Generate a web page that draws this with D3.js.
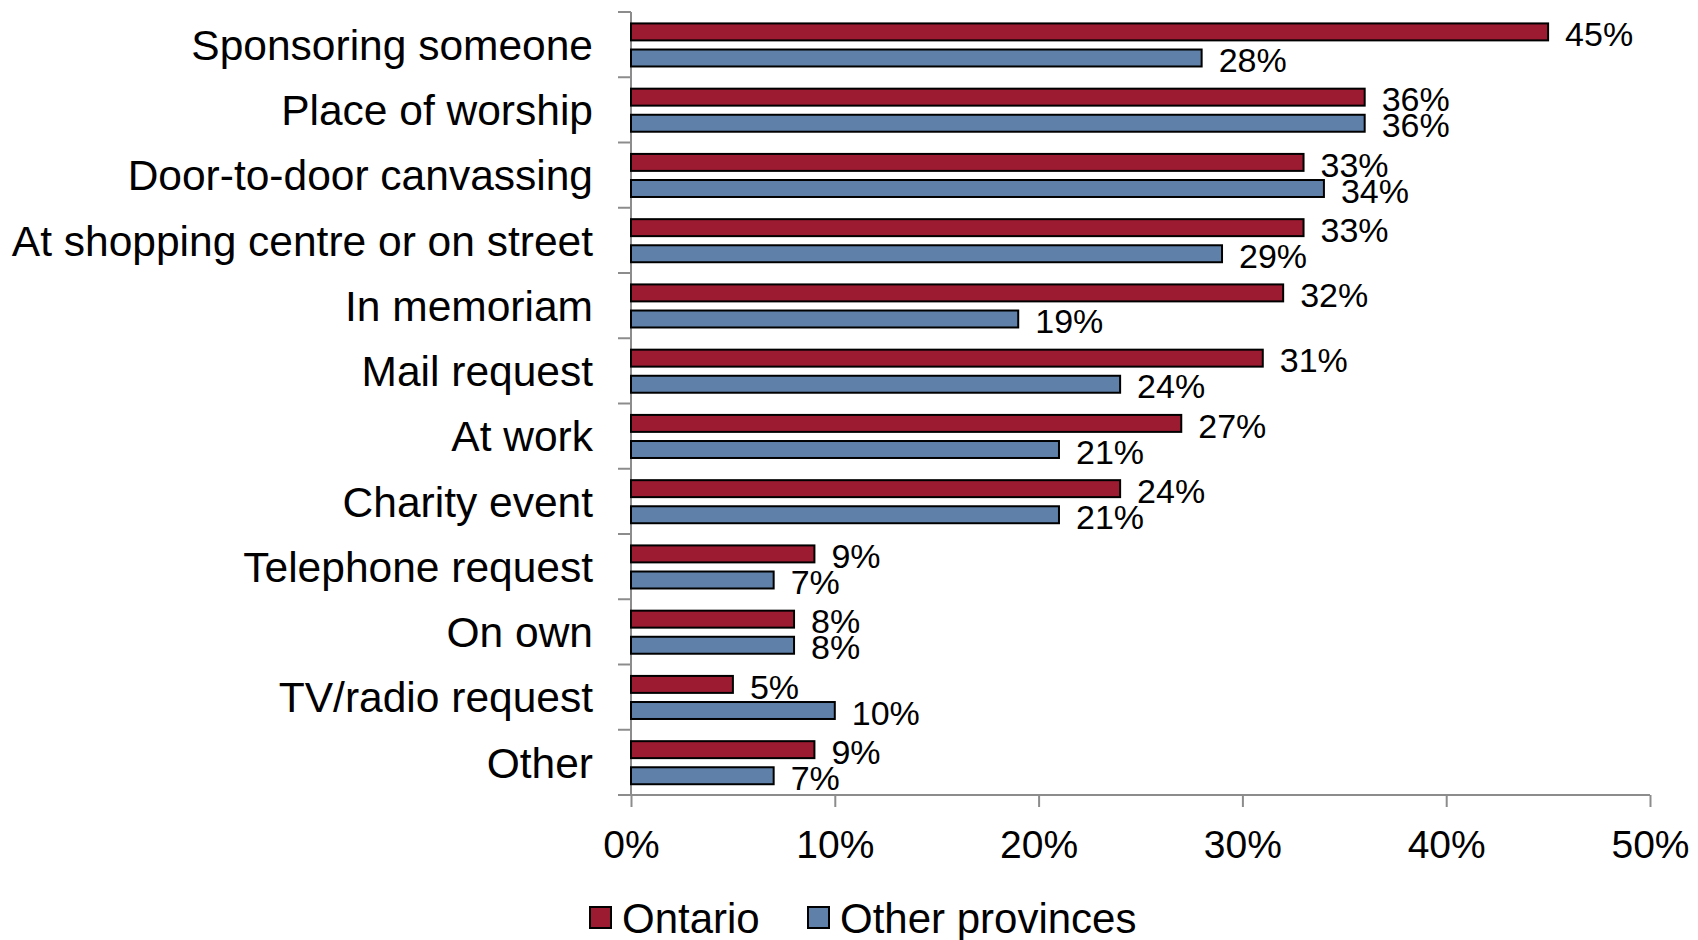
<!DOCTYPE html>
<html><head><meta charset="utf-8">
<script src="https://cdn.jsdelivr.net/npm/d3@7"></script>
<style>body{margin:0;background:#fff}svg{display:block}text{font-family:"Liberation Sans",Arial,sans-serif;fill:#000}</style>
</head><body>
<script>
const categories = ["Sponsoring someone","Place of worship","Door-to-door canvassing","At shopping centre or on street","In memoriam","Mail request","At work","Charity event","Telephone request","On own","TV/radio request","Other"];
const ontario = [45,36,33,33,32,31,27,24,9,8,5,9];
const otherProvinces = [28,36,34,29,19,24,21,21,7,8,10,7];
const seriesNames = ["Ontario","Other provinces"];
const tickValues = [0,10,20,30,40,50];

(function(){
const W=1698,H=940;
const mLeft=631,mRight=1650,mTop=12,mBottom=795;
const colors=["#9C1B31","#5F80A9"];

const svg=d3.select("body").append("svg").attr("width",W).attr("height",H);
const x=d3.scaleLinear().domain([0,50]).range([mLeft,mRight]);
const y=d3.scaleBand().domain(categories).range([mTop,mBottom]).padding(0);
const bw=y.bandwidth();
const barH=bw*0.26, off1=bw*0.175, off2=bw*0.575;

// x axis
const xa=svg.append("g").attr("transform",`translate(0,${mBottom})`)
  .call(d3.axisBottom(x).tickValues(tickValues).tickFormat(d=>d+"%").tickSize(12).tickSizeOuter(0));
xa.select(".domain").remove();
xa.selectAll(".tick line").attr("stroke","#8c8c8c").attr("stroke-width",2);
xa.selectAll(".tick text").attr("font-size",39).attr("dy",0).attr("y",63).attr("font-family",null);
xa.attr("font-family",null);
svg.append("line").attr("x1",mLeft-13).attr("x2",mRight).attr("y1",mBottom).attr("y2",mBottom).attr("stroke","#8c8c8c").attr("stroke-width",2);

// y axis
svg.append("line").attr("x1",mLeft).attr("x2",mLeft).attr("y1",mTop).attr("y2",mBottom).attr("stroke","#8c8c8c").attr("stroke-width",2);
svg.selectAll(".yt").data(categories).enter().append("line")
  .attr("x1",mLeft-13).attr("x2",mLeft).attr("y1",d=>y(d)).attr("y2",d=>y(d)).attr("stroke","#8c8c8c").attr("stroke-width",2);
svg.selectAll(".cl").data(categories).enter().append("text")
  .attr("x",mLeft-38).attr("y",d=>y(d)+bw/2).attr("dy","0.36em").attr("text-anchor","end").attr("font-size",42.5).text(d=>d);

const series=[ontario,otherProvinces];
series.forEach((vals,si)=>{
  const off= si===0?off1:off2;
  svg.selectAll(".b"+si).data(vals).enter().append("rect")
    .attr("x",mLeft).attr("y",(d,i)=>y(categories[i])+off)
    .attr("width",d=>x(d)-mLeft).attr("height",barH)
    .attr("fill",colors[si]).attr("stroke","#000").attr("stroke-width",2);
  svg.selectAll(".l"+si).data(vals).enter().append("text")
    .attr("x",d=>x(d)+17).attr("y",(d,i)=>y(categories[i])+off+barH/2+2).attr("dy","0.36em")
    .attr("font-size",34).text(d=>d+"%");
});

// legend
const lg=[[590,seriesNames[0]],[808,seriesNames[1]]];
lg.forEach((l,i)=>{
  svg.append("rect").attr("x",l[0]).attr("y",907).attr("width",21).attr("height",21).attr("fill",colors[i]).attr("stroke","#000").attr("stroke-width",2);
  svg.append("text").attr("x",l[0]+32).attr("y",917.5).attr("dy","0.36em").attr("font-size",42).text(l[1]);
});
})();
</script>
</body></html>
